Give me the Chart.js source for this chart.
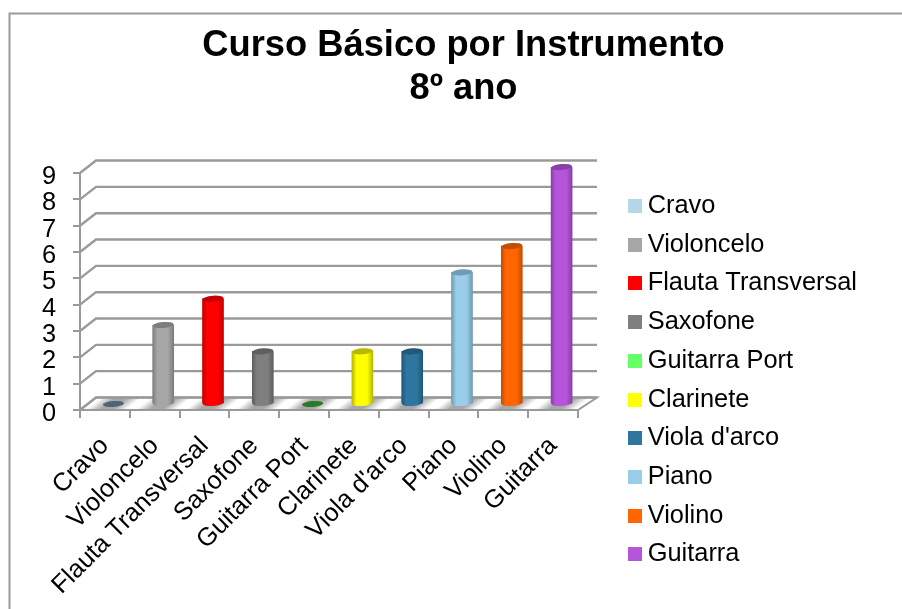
<!DOCTYPE html>
<html lang="pt">
<head>
    <meta charset="UTF-8">
    <title>Curso Básico por Instrumento</title>
    <script src="https://cdn.jsdelivr.net/npm/chart.js@4/dist/chart.umd.min.js"></script>
    <style>
        body { margin: 0; background: #fff; }
        canvas { display: block; }
    </style>
</head>
<body>
    <canvas id="myChart" width="902" height="609"></canvas>

    <script>
        const instrumentos = ['Cravo', 'Violoncelo', 'Flauta Transversal', 'Saxofone', 'Guitarra Port',
            'Clarinete', "Viola d'arco", 'Piano', 'Violino', 'Guitarra'];
        const alunos = [0, 3, 4, 2, 0, 2, 2, 5, 6, 9];
        const yMax = 9;

        const cores = ['#b6d7e8', '#a6a6a6', '#ff0000', '#7f7f7f', '#66ff66',
            '#ffff00', '#2e75a0', '#99cdea', '#ff6600', '#b555dc'];
        const coresEscuras = ['#4d6675', '#7d7d7d', '#c40000', '#5f5f5f', '#2a7a2a',
            '#b8b800', '#1f5878', '#6f9bb5', '#c44e00', '#8a3fa8'];

        const cinza = '#9a9a9a';
        const fonte = 'Liberation Sans, Arial, sans-serif';
        // depth of the fake 3D box, and where the bars sit inside it
        const fundoX = 16, fundoY = -12.5;
        const barraX = 8.5, barraY = -6;
        const raioX = 10.5, raioY = 3;

        function quadrado(cor) {
            const c = document.createElement('canvas');
            c.width = 14;
            c.height = 14;
            const g = c.getContext('2d');
            g.fillStyle = cor;
            g.fillRect(0, 0, 14, 14);
            return c;
        }

        function gradienteBarra(ctx, x, i) {
            const grad = ctx.createLinearGradient(x - raioX, 0, x + raioX, 0);
            grad.addColorStop(0, coresEscuras[i]);
            grad.addColorStop(0.22, cores[i]);
            grad.addColorStop(0.72, cores[i]);
            grad.addColorStop(1, coresEscuras[i]);
            return grad;
        }

        const caixa3d = {
            id: 'caixa3d',
            beforeLayout(chart) {
                const l = chart.legend;
                const fitOriginal = l.fit;
                l.fit = function () {
                    fitOriginal.call(this);
                    this.width = 324;
                };
            },
            afterLayout(chart) {
                const l = chart.legend;
                l.left = 620.7;
                l.right = 902;
                l.top = 180;
                l.bottom = 609;
                l.height = 429;

                // the y labels sit a little under their ticks in the original
                const sy = chart.scales.y;
                const drawLabels = sy.drawLabels;
                sy.drawLabels = function (area) {
                    chart.ctx.save();
                    chart.ctx.translate(0, 4);
                    drawLabels.call(this, area);
                    chart.ctx.restore();
                };
            },
            beforeDatasetsDraw(chart) {
                const ctx = chart.ctx;
                const a = chart.chartArea;
                const sy = chart.scales.y, sx = chart.scales.x;

                // moldura
                ctx.save();
                ctx.strokeStyle = cinza;
                ctx.lineWidth = 2;
                ctx.beginPath();
                ctx.moveTo(9.5, 609);
                ctx.lineTo(9.5, 13.5);
                ctx.lineTo(902, 13.5);
                ctx.stroke();

                // chao
                const chao = () => {
                    ctx.beginPath();
                    ctx.moveTo(a.left, a.bottom);
                    ctx.lineTo(a.right, a.bottom);
                    ctx.lineTo(a.right + fundoX + 3, a.bottom + fundoY);
                    ctx.lineTo(a.left + fundoX, a.bottom + fundoY);
                    ctx.closePath();
                };
                ctx.save();
                chao();
                ctx.clip();
                instrumentos.forEach((nome, i) => {
                    const cx = sx.getPixelForValue(i) + barraX;
                    const cy = a.bottom + barraY;
                    // slanted band following the depth of the floor
                    const nx = 7.6, ny = 9.7;
                    const grad = ctx.createLinearGradient(cx - nx, cy - ny, cx + nx, cy + ny);
                    grad.addColorStop(0, 'rgba(130,130,130,0)');
                    grad.addColorStop(0.35, 'rgba(130,130,130,0.7)');
                    grad.addColorStop(0.65, 'rgba(130,130,130,0.7)');
                    grad.addColorStop(1, 'rgba(130,130,130,0)');
                    ctx.fillStyle = grad;
                    ctx.fillRect(cx - 32, a.bottom + fundoY, 64, -fundoY);
                });
                ctx.restore();
                chao();
                ctx.stroke();

                // linhas de grelha: parede lateral e de fundo
                ctx.lineWidth = 2.4;
                sy.ticks.forEach((t, i) => {
                    const y = sy.getPixelForTick(i);
                    ctx.beginPath();
                    ctx.moveTo(a.left, y);
                    ctx.lineTo(a.left + fundoX, y + fundoY);
                    ctx.lineTo(a.right + fundoX + 3, y + fundoY);
                    ctx.stroke();
                });
                ctx.restore();
            },
            beforeDatasetDraw(chart) {
                chart.ctx.save();
                chart.ctx.translate(barraX, barraY);
            },
            afterDatasetDraw(chart) {
                const ctx = chart.ctx;
                chart.getDatasetMeta(0).data.forEach((el, i) => {
                    if (alunos[i] > 0) {
                        ctx.fillStyle = gradienteBarra(ctx, el.x, i);
                        ctx.beginPath();
                        ctx.ellipse(el.x, el.base, raioX, raioY, -0.08, 0, Math.PI * 2);
                        ctx.fill();
                    }
                    ctx.fillStyle = coresEscuras[i];
                    ctx.beginPath();
                    ctx.ellipse(el.x, el.y, raioX, raioY, -0.08, 0, Math.PI * 2);
                    ctx.fill();
                });
                ctx.restore();
            }
        };

        new Chart(document.getElementById('myChart'), {
            type: 'bar',
            data: {
                labels: instrumentos,
                datasets: [{
                    label: '8º ano',
                    data: alunos,
                    barThickness: 21,
                    backgroundColor: c => gradienteBarra(c.chart.ctx, c.chart.scales.x.getPixelForValue(c.dataIndex), c.dataIndex)
                }]
            },
            options: {
                responsive: false,
                animation: false,
                layout: { padding: { left: 25 } },
                plugins: {
                    tooltip: { enabled: false },
                    title: {
                        display: true,
                        text: ['Curso Básico por Instrumento', '8º ano'],
                        color: '#000',
                        font: { family: fonte, size: 36.3, weight: 'bold', lineHeight: 1.2 },
                        padding: { top: 24, bottom: 61.9 }
                    },
                    legend: {
                        position: 'right',
                        align: 'start',
                        labels: {
                            color: '#000',
                            font: { family: fonte, size: 25.4 },
                            usePointStyle: true,
                            pointStyleWidth: 1,
                            boxHeight: 14,
                            padding: 13.3,
                            generateLabels: () => instrumentos.map((nome, i) => ({
                                text: nome,
                                fillStyle: cores[i],
                                strokeStyle: cores[i],
                                lineWidth: 0,
                                pointStyle: quadrado(cores[i]),
                                index: i
                            }))
                        }
                    }
                },
                scales: {
                    x: {
                        afterFit: s => { s.height = 199; },
                        border: { color: cinza, width: 2 },
                        grid: { drawOnChartArea: false, color: cinza, lineWidth: 2, tickLength: 8 },
                        ticks: {
                            color: '#000',
                            font: { family: fonte, size: 25.4 },
                            minRotation: 45,
                            maxRotation: 45,
                            autoSkip: false,
                            padding: 13
                        }
                    },
                    y: {
                        min: 0,
                        max: yMax,
                        afterFit: s => { s.width = 55; },
                        border: { color: cinza, width: 2 },
                        grid: { drawOnChartArea: false, color: cinza, lineWidth: 2, tickLength: 7 },
                        ticks: {
                            stepSize: 1,
                            autoSkip: false,
                            color: '#000',
                            font: { family: fonte, size: 25.4 },
                            padding: 17
                        }
                    }
                }
            },
            plugins: [caixa3d]
        });
    </script>
</body>
</html>
